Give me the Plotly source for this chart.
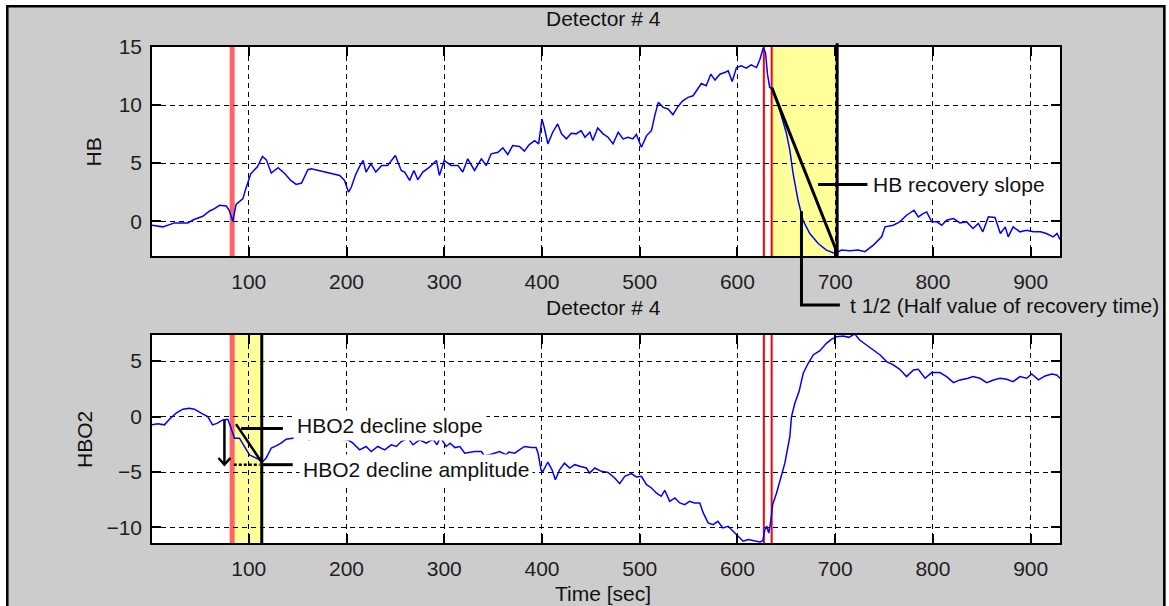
import plotly.graph_objects as go

# ---------------- data ----------------
hb_t = [1, 12, 24, 37.6, 44, 53, 60, 65, 70, 77, 80, 83.7, 87, 94, 97, 102, 109, 114, 118, 123,
        130, 137, 143, 148.5, 154, 160.5, 164, 174, 184, 193, 198, 202, 205, 209, 213, 217, 220,
        225, 230, 236, 242, 250, 256, 259.5, 264.6, 269, 273, 278, 285, 292, 295, 300, 307, 314,
        319, 324, 331, 338, 343, 348, 355, 360, 365, 370, 377, 382, 387, 392.5, 396.6, 400, 402.7,
        406, 411, 416, 420, 425, 430, 435, 440, 444, 449, 452, 457, 462.5, 467.6, 472.7, 478, 483,
        488, 493, 496.6, 501.7, 507, 512, 515.4, 519, 524, 529, 534, 539, 544, 549.5, 554.6, 559,
        563, 568, 572.7, 577, 582, 587, 590.5, 594.6, 599, 604, 609, 614, 619.5, 623, 626.5, 628.7,
        630.7, 633, 636.5, 640, 645, 650, 653.6, 657, 662, 667, 674, 682.6, 691, 699.7, 706.5, 715,
        723.6, 730.4, 739, 747.5, 751, 759.4, 766, 773, 780.6, 785, 790, 793.6, 798.7, 804, 809,
        814, 821, 827.7, 834.5, 841, 846.5, 851, 856.7, 863.5, 869, 874, 877, 882, 889, 896, 903,
        910, 916, 923, 927, 930]
hb_v = [-0.35, -0.49, -0.15, -0.15, 0.14, 0.42, 0.88, 1.08, 1.37, 1.31, 0.94, 0.0, 1.45, 1.94, 2.8,
        4.08, 4.71, 5.57, 5.28, 4.14, 4.6, 4.08, 3.51, 3.17, 3.28, 4.43, 4.51, 4.31, 4.14, 3.94, 3.51,
        2.51, 2.94, 3.94, 4.66, 5.23, 4.23, 4.94, 4.23, 4.8, 4.8, 5.66, 4.37, 4.23, 3.51, 4.37, 3.57,
        4.23, 4.66, 5.23, 3.94, 5.23, 4.8, 4.8, 4.23, 5.37, 4.37, 5.37, 4.8, 5.8, 5.94, 6.31, 5.74,
        6.51, 6.43, 6.03, 6.6, 6.94, 6.66, 8.8, 7.94, 6.66, 7.66, 8.37, 7.52, 7.09, 7.57, 7.52, 7.8,
        7.23, 7.66, 6.94, 8.03, 7.52, 7.23, 6.66, 7.66, 7.09, 7.23, 7.09, 7.46, 6.37, 7.37, 7.8, 9.09,
        10.23, 9.8, 9.66, 9.17, 9.86, 10.37, 10.66, 10.8, 11.37, 11.86, 11.66, 12.66, 12.15, 12.66,
        12.8, 12.95, 12.03, 13.23, 13.38, 13.18, 13.46, 13.23, 13.95, 14.95, 14.52, 12.66, 11.52,
        11.37, 10.5, 9.0, 7.6, 6.09, 4.08, 1.8, 0.08, -1.06, -1.92, -2.49, -2.78, -2.49, -2.55, -2.49,
        -2.63, -2.06, -1.35, -0.49, -0.35, -0.06, 0.51, 0.94, 0.37, 0.65, 0.8, -0.06, -0.06, -0.35,
        0.08, 0.22, -0.15, -0.06, -0.63, -0.2, -0.92, 0.37, 0.31, -1.06, -0.49, -1.35, -0.49, -0.92,
        -0.78, -0.92, -0.92, -1.06, -1.35, -1.06, -1.58]

hbo2_t = [1, 7, 13.7, 18.8, 25.7, 32.5, 39.3, 44.4, 51.3, 58, 63, 68, 73.4, 78.6, 81.3, 85.4, 90.5,
          95.6, 100.7, 107.6, 114.4, 117.8, 123, 128, 133, 138.3, 150, 162, 170.7, 179, 193, 201.4,
          206.6, 213.4, 220, 225.3, 232, 239, 245.8, 251, 256, 263, 268, 274.8, 281.6, 288.5, 292.6,
          296, 302, 306, 311, 316, 321, 331, 338, 341, 346.5, 356.7, 363.5, 366, 372, 377, 382, 389,
          394, 396, 399, 401, 406, 410.3, 413.7, 418, 423, 428.4, 433.5, 439.6, 445.4, 448.8, 454,
          460.8, 467.6, 474.4, 479.5, 484.7, 491.5, 496.6, 501.7, 507, 512, 517, 522, 525.6, 530.7,
          536, 541, 546, 551, 556, 561.4, 565, 570, 575, 580, 585, 590.5, 595.6, 600.7, 605.8, 611,
          617.8, 623, 626, 628, 630, 632, 634, 636, 640, 645, 648.5, 653.6, 655.3, 658.7, 663, 667.3,
          672.4, 677.5, 684.3, 691, 696, 701.4, 708, 714, 720, 725, 732, 739, 746, 752.6, 759.4, 766,
          773, 780, 785, 792, 798.7, 807, 814, 821, 827.7, 836, 841, 848, 855, 862, 868.6, 875.5, 882,
          889, 896, 901, 908, 914.7, 921.5, 926.7, 930]
hbo2_v = [-0.75, -0.66, -0.75, -0.24, 0.3, 0.66, 0.75, 0.66, 0.3, 0.0, -0.75, -0.6, -0.3, -0.24,
          -0.9, -1.95, -1.95, -2.7, -3.45, -3.75, -4.05, -3.75, -2.85, -2.64, -2.4, -2.04, -1.9, -2.1,
          -1.86, -1.95, -2.04, -2.1, -2.4, -3.0, -2.7, -3.15, -2.7, -3.0, -2.55, -2.7, -2.25, -1.95,
          -2.55, -2.1, -2.4, -2.04, -2.55, -1.86, -2.7, -2.4, -2.8, -2.7, -3.3, -3.15, -3.15, -3.54,
          -3.45, -3.15, -3.45, -3.2, -3.3, -3.0, -2.7, -2.8, -2.8, -3.3, -4.8, -4.94, -4.1, -4.8, -5.7,
          -4.8, -4.2, -4.64, -4.34, -4.5, -4.64, -5.1, -4.64, -4.94, -5.03, -5.54, -6.05, -5.39, -5.15,
          -5.45, -5.39, -6.14, -6.44, -6.89, -7.19, -6.65, -7.64, -7.34, -7.79, -7.94, -7.64, -7.79,
          -7.79, -8.69, -9.59, -9.74, -9.44, -10.04, -9.89, -10.34, -10.79, -11.24, -11.09, -11.24,
          -11.3, -11.2, -10.19, -9.89, -10.5, -9.5, -7.94, -6.89, -5.39, -4.2, -1.8, 0.0, 1.2, 2.25,
          3.9, 4.8, 5.55, 5.94, 6.6, 6.96, 7.2, 7.26, 7.14, 7.44, 6.9, 6.45, 6.0, 5.55, 4.95, 4.65,
          4.26, 3.6, 4.2, 4.26, 3.45, 3.96, 3.96, 3.6, 3.06, 3.3, 3.45, 3.6, 3.45, 3.06, 3.3, 3.45,
          3.36, 3.15, 3.6, 3.45, 3.84, 3.3, 3.66, 3.84, 3.75, 3.45]

x_ticks = [100, 200, 300, 400, 500, 600, 700, 800, 900]
hb_ticks = [0, 5, 10, 15]
hbo2_ticks = [-10, -5, 0, 5]
events = [83, 627, 635]          # event markers (sec)
hb_window = [635, 702]           # HB recovery window
hb_slope = [[635, 11.5], [702, -2.7]]
hb_half_t = 665.5
hb_half_v = 0.86
hbo2_window = [85, 113.3]        # HBO2 decline window
hbo2_slope = [[87, -0.68], [113.3, -4.14]]
hbo2_amp_top = -0.3
hbo2_amp_bottom = -4.34

FONT = "Liberation Sans, Arial, sans-serif"
FS = 21
TXT = "#1e1e1e"

# plot area in pixels
W, H = 1169, 606
L, R, T, B = 152, 1060, 47, 543
def px(x):
    return (x - L) / (R - L)
def py(y):
    return (B - y) / (B - T)

top_dom = [py(256), 1.0]
bot_dom = [0.0, py(335)]
hb_range = [-3, 15]
hbo2_range = [-11.4, 7.35]
def dom_top(v):
    return (v - hb_range[0]) / (hb_range[1] - hb_range[0])

fig = go.Figure()
fig.add_trace(go.Scatter(x=hb_t, y=hb_v, mode="lines", line=dict(color="#0000ff", width=1.5),
                         xaxis="x", yaxis="y", showlegend=False))
fig.add_trace(go.Scatter(x=hbo2_t, y=hbo2_v, mode="lines", line=dict(color="#0000ff", width=1.5),
                         xaxis="x2", yaxis="y2", showlegend=False))

axis_common = dict(
    showgrid=True, gridcolor="#000000", griddash="5px,4px", gridwidth=1.2,
    ticks="inside", ticklen=9, tickwidth=1.5, tickcolor="#000000",
    showline=True, linecolor="#000000", linewidth=1.5, mirror="ticks",
    zeroline=False, tickfont=dict(family=FONT, size=FS, color=TXT),
)

fig.update_layout(
    width=W, height=H, autosize=False,
    margin=dict(l=L, r=W - R, t=T, b=H - B, pad=0),
    paper_bgcolor="#cccccc", plot_bgcolor="#ffffff",
    xaxis=dict(domain=[0, 1], range=[1, 930], anchor="y", tickvals=x_ticks,
               ticklabelstandoff=6, **axis_common),
    yaxis=dict(domain=top_dom, range=hb_range, anchor="x", tickvals=hb_ticks,
               ticklabelstandoff=4, **axis_common),
    xaxis2=dict(domain=[0, 1], range=[1, 930], anchor="y2", tickvals=x_ticks,
                ticklabelstandoff=6, **axis_common),
    yaxis2=dict(domain=bot_dom, range=hbo2_range, anchor="x2", tickvals=hbo2_ticks,
                ticklabelstandoff=4, **axis_common),
)

shapes = []
# outer frame
shapes.append(dict(type="rect", xref="paper", yref="paper", x0=px(0), x1=px(W), y0=py(0), y1=py(5),
                   fillcolor="white", line=dict(width=0), layer="below"))
shapes.append(dict(type="rect", xref="paper", yref="paper", x0=px(0), x1=px(6), y0=py(0), y1=py(H),
                   fillcolor="white", line=dict(width=0), layer="below"))
shapes.append(dict(type="rect", xref="paper", yref="paper", x0=px(1166), x1=px(W), y0=py(0), y1=py(H),
                   fillcolor="white", line=dict(width=0), layer="below"))
shapes.append(dict(type="rect", xref="paper", yref="paper", x0=px(7.3), x1=px(1164.3), y0=py(6.3), y1=py(620),
                   line=dict(color="black", width=2.5), layer="above"))

# yellow windows
shapes.append(dict(type="rect", xref="x", yref="y domain", x0=hb_window[0], x1=hb_window[1], y0=0, y1=1,
                   fillcolor="#ffff99", line=dict(width=0), layer="below"))
shapes.append(dict(type="rect", xref="x2", yref="y2 domain", x0=hbo2_window[0], x1=hbo2_window[1], y0=0, y1=1,
                   fillcolor="#ffff99", line=dict(width=0), layer="below"))

# event lines
for xr, yr in (("x", "y domain"), ("x2", "y2 domain")):
    shapes.append(dict(type="line", xref=xr, yref=yr, x0=events[0], x1=events[0], y0=0, y1=1,
                       line=dict(color="rgba(255,60,60,0.8)", width=5), layer="below"))
    for e in events[1:]:
        shapes.append(dict(type="line", xref=xr, yref=yr, x0=e, x1=e, y0=0, y1=1,
                           line=dict(color="#ff0000", width=2), layer="below"))

# HB annotations
shapes.append(dict(type="line", xref="x", yref="y domain", x0=hb_window[1], x1=hb_window[1], y0=0, y1=1.018,
                   line=dict(color="black", width=3), layer="above"))
shapes.append(dict(type="line", xref="x", yref="y", x0=hb_slope[0][0], y0=hb_slope[0][1],
                   x1=hb_slope[1][0], y1=hb_slope[1][1], line=dict(color="black", width=3), layer="above"))
shapes.append(dict(type="line", xref="x", yref="y", x0=682.5, x1=733, y0=3.15, y1=3.15,
                   line=dict(color="black", width=3), layer="above"))
yb = (256 - 305) / (256 - 46.7)
shapes.append(dict(type="path", xref="x", yref="y domain",
                   path=f"M {hb_half_t},{dom_top(hb_half_v)} L {hb_half_t},{yb} L 704.8,{yb}",
                   line=dict(color="black", width=3), layer="above"))

# HBO2 annotations
shapes.append(dict(type="line", xref="x2", yref="y2 domain", x0=hbo2_window[1], x1=hbo2_window[1], y0=0, y1=1,
                   line=dict(color="black", width=3), layer="above"))
shapes.append(dict(type="line", xref="x2", yref="y2", x0=hbo2_slope[0][0], y0=hbo2_slope[0][1],
                   x1=hbo2_slope[1][0], y1=hbo2_slope[1][1], line=dict(color="black", width=2.5), layer="above"))
shapes.append(dict(type="line", xref="x2", yref="y2", x0=92.2, x1=134.9, y0=-1.08, y1=-1.08,
                   line=dict(color="black", width=3), layer="above"))
shapes.append(dict(type="line", xref="x2", yref="y2", x0=113.3, x1=145, y0=hbo2_amp_bottom, y1=hbo2_amp_bottom,
                   line=dict(color="black", width=3), layer="above"))
shapes.append(dict(type="line", xref="x2", yref="y2", x0=84.7, x1=111, y0=hbo2_amp_bottom, y1=hbo2_amp_bottom,
                   line=dict(color="black", width=2.5, dash="3px,2px"), layer="above"))
ax = 75.1
shapes.append(dict(type="line", xref="x2", yref="y2", x0=ax, x1=ax, y0=hbo2_amp_top, y1=hbo2_amp_bottom,
                   line=dict(color="black", width=2.5), layer="above"))
shapes.append(dict(type="path", xref="x2", yref="y2",
                   path=f"M {ax-6.1},{hbo2_amp_bottom+0.6} L {ax},{hbo2_amp_bottom} L {ax+6.1},{hbo2_amp_bottom+0.6}",
                   line=dict(color="black", width=2.5), layer="above"))

fig.update_layout(shapes=shapes)

ann_font = dict(family=FONT, size=FS, color="#111111")
annotations = [
    dict(text="Detector # 4", xref="paper", yref="paper", x=px(603), y=py(18), showarrow=False,
         xanchor="center", yanchor="middle", font=ann_font),
    dict(text="Detector # 4", xref="paper", yref="paper", x=px(603), y=py(308), showarrow=False,
         xanchor="center", yanchor="middle", font=ann_font),
    dict(text="Time [sec]", xref="paper", yref="paper", x=px(603), y=py(593), showarrow=False,
         xanchor="center", yanchor="middle", font=ann_font),
    dict(text="HB", xref="paper", yref="paper", x=px(92.5), y=py(152), showarrow=False,
         xanchor="center", yanchor="middle", textangle=-90, font=ann_font),
    dict(text="HBO2", xref="paper", yref="paper", x=px(84), y=py(440), showarrow=False,
         xanchor="center", yanchor="middle", textangle=-90, font=ann_font),
    dict(text="HB recovery slope", xref="x", yref="y", x=736.5, y=3.15, showarrow=False,
         xanchor="left", yanchor="middle", bgcolor="white", borderpad=1, font=ann_font),
    dict(text="t 1/2 (Half value of recovery time)", xref="paper", yref="paper", x=px(848), y=py(305),
         showarrow=False, xanchor="left", yanchor="middle", font=ann_font),
    dict(text="HBO2 decline slope", xref="x2", yref="y2", x=145.5, y=-0.84, showarrow=False,
         xanchor="left", yanchor="middle", bgcolor="white", borderpad=3, font=ann_font),
    dict(text="HBO2 decline amplitude", xref="x2", yref="y2", x=151.5, y=-4.73, showarrow=False,
         xanchor="left", yanchor="middle", bgcolor="white", borderpad=3, font=ann_font),
]
fig.update_layout(annotations=annotations)

fig.write_html("out.html")
